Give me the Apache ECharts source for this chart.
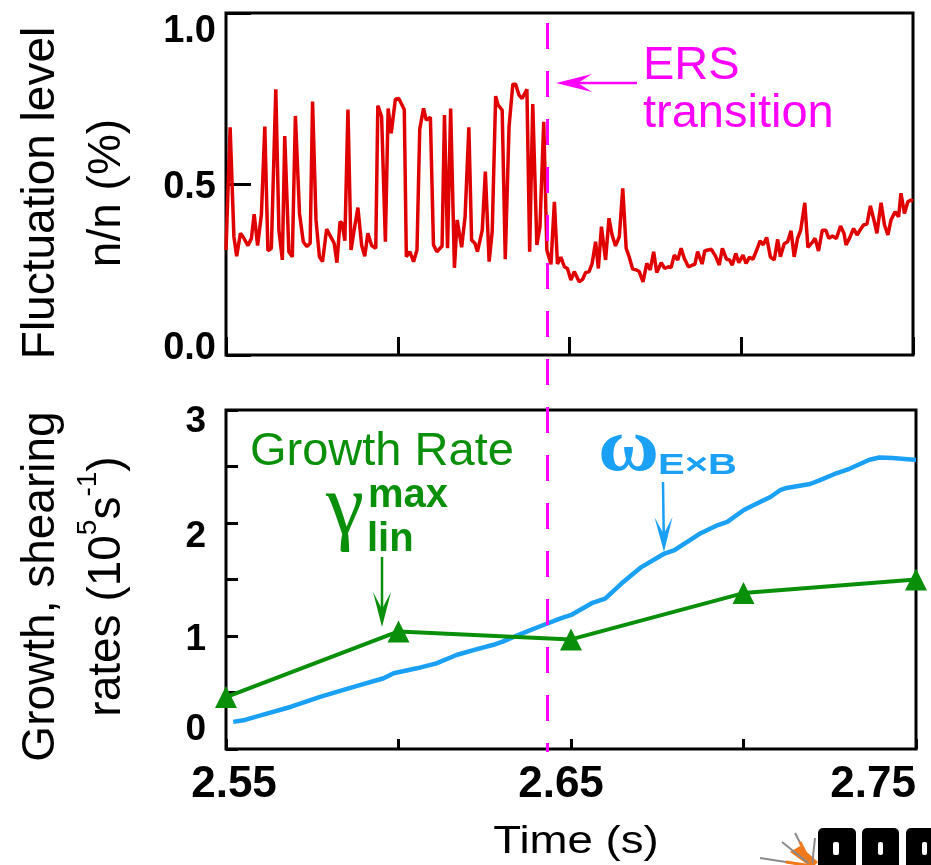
<!DOCTYPE html>
<html>
<head>
<meta charset="utf-8">
<script src="https://cdn.jsdelivr.net/npm/echarts@6/dist/echarts.min.js"></script>
<style>
  html, body { margin: 0; padding: 0; background: #fff; }
  #main { width: 931px; height: 865px; }
</style>
</head>
<body>
<div id="main"></div>
<script>
// Density fluctuation level (%) versus time
const fluctTime = [
  2.5500, 2.5512, 2.5523, 2.5531, 2.5542, 2.5550, 2.5564, 2.5574, 2.5582, 2.5592,
  2.5603, 2.5613, 2.5622, 2.5632, 2.5645, 2.5654, 2.5664, 2.5671, 2.5683, 2.5693,
  2.5702, 2.5714, 2.5725, 2.5735, 2.5745, 2.5752, 2.5762, 2.5772, 2.5781, 2.5793,
  2.5810, 2.5815, 2.5823, 2.5832, 2.5838, 2.5846, 2.5855, 2.5864, 2.5873, 2.5884,
  2.5895, 2.5904, 2.5913, 2.5924, 2.5936, 2.5942, 2.5953, 2.5964, 2.5972, 2.5981,
  2.5993, 2.6003, 2.6019, 2.6025, 2.6035, 2.6046, 2.6056, 2.6064, 2.6075, 2.6083,
  2.6095, 2.6104, 2.6114, 2.6123, 2.6129, 2.6136, 2.6145, 2.6154, 2.6165, 2.6173,
  2.6186, 2.6196, 2.6207, 2.6215, 2.6225, 2.6232, 2.6246, 2.6255, 2.6266, 2.6275,
  2.6285, 2.6292, 2.6304, 2.6313, 2.6324, 2.6335, 2.6343, 2.6353, 2.6362, 2.6376,
  2.6384, 2.6393, 2.6405, 2.6414, 2.6425, 2.6434, 2.6446, 2.6456, 2.6465, 2.6475,
  2.6485, 2.6494, 2.6504, 2.6514, 2.6528, 2.6538, 2.6547, 2.6557, 2.6566, 2.6576,
  2.6584, 2.6593, 2.6605, 2.6615, 2.6624, 2.6634, 2.6645, 2.6655, 2.6665, 2.6674,
  2.6684, 2.6694, 2.6703, 2.6714, 2.6725, 2.6735, 2.6745, 2.6754, 2.6767, 2.6777,
  2.6788, 2.6796, 2.6805, 2.6815, 2.6825, 2.6834, 2.6846, 2.6858, 2.6865, 2.6873,
  2.6886, 2.6894, 2.6913, 2.6925, 2.6936, 2.6945, 2.6957, 2.6966, 2.6974, 2.6984,
  2.6993, 2.7005, 2.7014, 2.7024, 2.7034, 2.7045, 2.7055, 2.7064, 2.7074, 2.7085,
  2.7096, 2.7106, 2.7114, 2.7125, 2.7135, 2.7145, 2.7154, 2.7164, 2.7173, 2.7185,
  2.7194, 2.7205, 2.7215, 2.7225, 2.7236, 2.7246, 2.7255, 2.7265, 2.7277, 2.7289,
  2.7299, 2.7305, 2.7315, 2.7327, 2.7337, 2.7347, 2.7356, 2.7366, 2.7376, 2.7385,
  2.7395, 2.7407, 2.7417, 2.7427, 2.7436, 2.7448, 2.7458, 2.7465, 2.7475, 2.7485,
  2.7494, 2.7500
];
const fluctLevel = [
  0.307, 0.666, 0.346, 0.289, 0.356, 0.345, 0.320, 0.341, 0.412, 0.320,
  0.410, 0.668, 0.305, 0.312, 0.777, 0.365, 0.278, 0.640, 0.302, 0.287,
  0.699, 0.414, 0.331, 0.317, 0.327, 0.741, 0.395, 0.287, 0.273, 0.368,
  0.336, 0.326, 0.270, 0.390, 0.385, 0.334, 0.718, 0.307, 0.365, 0.431,
  0.320, 0.289, 0.356, 0.320, 0.312, 0.729, 0.697, 0.331, 0.721, 0.648,
  0.748, 0.750, 0.718, 0.287, 0.302, 0.273, 0.307, 0.660, 0.721, 0.687,
  0.695, 0.322, 0.302, 0.312, 0.318, 0.702, 0.312, 0.721, 0.255, 0.395,
  0.315, 0.404, 0.666, 0.336, 0.326, 0.302, 0.365, 0.536, 0.273, 0.361,
  0.757, 0.731, 0.716, 0.280, 0.668, 0.792, 0.792, 0.760, 0.750, 0.777,
  0.302, 0.734, 0.322, 0.375, 0.682, 0.307, 0.265, 0.448, 0.266, 0.286,
  0.258, 0.253, 0.219, 0.244, 0.214, 0.221, 0.241, 0.244, 0.268, 0.331,
  0.253, 0.375, 0.278, 0.400, 0.351, 0.319, 0.346, 0.487, 0.312, 0.286,
  0.251, 0.249, 0.244, 0.214, 0.268, 0.249, 0.302, 0.241, 0.270, 0.253,
  0.258, 0.256, 0.292, 0.278, 0.312, 0.283, 0.258, 0.263, 0.265, 0.302,
  0.266, 0.305, 0.309, 0.289, 0.263, 0.312, 0.280, 0.278, 0.263, 0.297,
  0.270, 0.292, 0.268, 0.286, 0.280, 0.307, 0.334, 0.322, 0.344, 0.286,
  0.278, 0.338, 0.287, 0.325, 0.331, 0.363, 0.287, 0.341, 0.365, 0.445,
  0.315, 0.327, 0.341, 0.304, 0.365, 0.365, 0.341, 0.348, 0.341, 0.377,
  0.356, 0.322, 0.341, 0.370, 0.351, 0.367, 0.380, 0.383, 0.436, 0.400,
  0.356, 0.445, 0.380, 0.351, 0.395, 0.419, 0.404, 0.473, 0.414, 0.448,
  0.453, 0.450
];

// E×B shearing rate (10^5 s^-1)
const shearTime = [
  2.5521, 2.5555, 2.5603, 2.5689, 2.5775, 2.5880, 2.5957, 2.5986, 2.6053, 2.6110,
  2.6168, 2.6225, 2.6273, 2.6302, 2.6359, 2.6407, 2.6474, 2.6503, 2.6560, 2.6599,
  2.6647, 2.6704, 2.6771, 2.6800, 2.6876, 2.6924, 2.6953, 2.7001, 2.7030, 2.7078,
  2.7106, 2.7125, 2.7193, 2.7222, 2.7269, 2.7307, 2.7365, 2.7394, 2.7432, 2.7494,
  2.7500
];
const shearRate = [
  0.240, 0.257, 0.300, 0.374, 0.463, 0.558, 0.626, 0.670, 0.714, 0.758,
  0.832, 0.882, 0.920, 0.950, 1.024, 1.082, 1.160, 1.190, 1.290, 1.330,
  1.466, 1.610, 1.730, 1.760, 1.910, 1.980, 2.010, 2.115, 2.160, 2.230,
  2.290, 2.310, 2.345, 2.380, 2.440, 2.480, 2.560, 2.580, 2.575, 2.560,
  2.560
];

// Maximum linear growth rate (10^5 s^-1)
const growthTime = [2.55, 2.60, 2.65, 2.70, 2.75];
const growthRate = [0.46, 1.04, 0.97, 1.38, 1.50];

// ERS transition time (s)
const ersTime = 2.644;

// Axis tick labels
const timeTickLabels = ['2.55', '2.65', '2.75'];
const fluctTickLabels = ['0.0', '0.5', '1.0'];
const rateTickLabels = ['0', '1', '2', '3'];

const SANS = '"Liberation Sans", Arial, Helvetica, sans-serif';
const SERIF = '"Liberation Serif", "Times New Roman", serif';
const RED = '#e00000';
const BLUE = '#1aa0f5';
const GREEN = '#0a8f0a';
const MAGENTA = '#ff00ff';

const pairs = (xs, ys) => xs.map((x, i) => [x, ys[i]]);

function arrow(x1, y1, x2, y2, color, width, headLen, headHalf, notch) {
  const dx = x2 - x1, dy = y2 - y1, L = Math.hypot(dx, dy);
  const ux = dx / L, uy = dy / L, px = -uy, py = ux;
  const bx = x2 - ux * headLen, by = y2 - uy * headLen;
  const nx = x2 - ux * notch, ny = y2 - uy * notch;
  return [
    { type: 'line', z: 50, shape: { x1, y1, x2: nx, y2: ny },
      style: { stroke: color, lineWidth: width } },
    { type: 'polygon', z: 50,
      shape: { points: [[x2, y2], [bx + px * headHalf, by + py * headHalf], [nx, ny],
                        [bx - px * headHalf, by - py * headHalf]] },
      style: { fill: color } }
  ];
}

function text(x, y, str, font, fill, opts) {
  return Object.assign({
    type: 'text', x, y, z: 50,
    style: Object.assign({
      text: str, font, fill,
      textAlign: 'left', align: 'left',
      textVerticalAlign: 'middle', verticalAlign: 'middle'
    }, (opts && opts.style) || {})
  }, (opts && opts.el) || {});
}

const tickKey = (v) => Math.round(v * 100);

const chart = echarts.init(document.getElementById('main'), null, { renderer: 'canvas' });

const graphics = [].concat(
  // ERS transition label and pointer
  [text(643, 42, 'ERS\ntransition', '47px ' + SANS, MAGENTA,
        { style: { lineHeight: 48, textVerticalAlign: 'top', verticalAlign: 'top' } })],
  arrow(637, 83, 556, 83, MAGENTA, 2.5, 36, 9, 22),
  // growth rate label
  [text(250, 452, 'Growth Rate', '47px ' + SANS, GREEN)],
  [text(326, 510, 'γ', '86px ' + SERIF, GREEN)],
  [text(368, 496, 'max', 'bold 40px ' + SANS, GREEN)],
  [text(367, 540, 'lin', 'bold 40px ' + SANS, GREEN)],
  arrow(382, 557, 382, 627, GREEN, 2.5, 35, 9, 18),
  // shearing rate label
  [text(0, 0, 'ω', 'bold 76px ' + SERIF, BLUE, { el: { x: 598, y: 450, scaleX: 1.1 } })],
  [text(0, 0, 'E×B', 'bold 29px ' + SANS, BLUE, { el: { x: 658, y: 466, scaleX: 1.38 } })],
  arrow(663, 482, 664, 552, BLUE, 2.5, 35, 9, 18),
  // time axis title
  [text(0, 0, 'Time (s)', '38px ' + SANS, '#000',
        { el: { x: 576, y: 843, scaleX: 1.2 },
          style: { textAlign: 'center', align: 'center' } })],
  // DIII-D emblem (partly cut off at the corner)
  [
    { type: 'polygon', z: 40, shape: { points: [[812, 868], [790, 852], [800, 846], [818, 862]] },
      style: { fill: '#f07a1a' } },
    { type: 'line', z: 41, shape: { x1: 812, y1: 866, x2: 760, y2: 858 }, style: { stroke: '#8a8a8a', lineWidth: 2 } },
    { type: 'line', z: 41, shape: { x1: 812, y1: 866, x2: 782, y2: 842 }, style: { stroke: '#8a8a8a', lineWidth: 2 } },
    { type: 'line', z: 41, shape: { x1: 812, y1: 866, x2: 795, y2: 833 }, style: { stroke: '#8a8a8a', lineWidth: 2 } },
    { type: 'line', z: 41, shape: { x1: 812, y1: 866, x2: 815, y2: 838 }, style: { stroke: '#8a8a8a', lineWidth: 2 } },
    { type: 'line', z: 41, shape: { x1: 812, y1: 866, x2: 786, y2: 862 }, style: { stroke: '#f07a1a', lineWidth: 3 } },
    { type: 'line', z: 41, shape: { x1: 812, y1: 866, x2: 800, y2: 842 }, style: { stroke: '#f07a1a', lineWidth: 3 } },
    { type: 'rect', z: 42, shape: { x: 818, y: 828, width: 38, height: 42, r: 5 }, style: { fill: '#000' } },
    { type: 'rect', z: 42, shape: { x: 862, y: 828, width: 37, height: 42, r: 5 }, style: { fill: '#000' } },
    { type: 'rect', z: 42, shape: { x: 906, y: 828, width: 32, height: 42, r: 5 }, style: { fill: '#000' } },
    { type: 'rect', z: 43, shape: { x: 833, y: 842, width: 6, height: 13, r: 2 }, style: { fill: '#fff' } },
    { type: 'rect', z: 43, shape: { x: 878, y: 842, width: 5, height: 13, r: 2 }, style: { fill: '#fff' } },
    { type: 'rect', z: 43, shape: { x: 922, y: 842, width: 5, height: 13, r: 2 }, style: { fill: '#fff' } }
  ]
);

const option = {
  animation: false,
  backgroundColor: '#fff',
  grid: [
    { left: 221, top: 13, width: 692, height: 342, show: true,
      borderColor: '#000', borderWidth: 3, backgroundColor: 'transparent' },
    { left: 221, top: 410, width: 695, height: 339, show: true,
      borderColor: '#000', borderWidth: 3, backgroundColor: 'transparent' },
    { left: 221, top: 8, width: 695, height: 744, show: false }
  ],
  xAxis: [
    { type: 'value', gridIndex: 0, min: 2.55, max: 2.75, interval: 0.05,
      axisLine: { show: false }, splitLine: { show: false },
      axisTick: { show: true, inside: true, length: 18, lineStyle: { color: '#000', width: 3 } },
      axisLabel: { show: false } },
    { type: 'value', gridIndex: 1, min: 2.55, max: 2.75, interval: 0.05,
      axisLine: { show: false }, splitLine: { show: false },
      axisTick: { show: true, inside: true, length: 10, lineStyle: { color: '#000', width: 3 } },
      axisLabel: {
        show: true, margin: 14, alignMaxLabel: 'right',
        formatter: (v) => {
          const k = tickKey(v);
          if (k === 255) return '{a|' + timeTickLabels[0] + '}';
          if (k === 265) return '{b|' + timeTickLabels[1] + '}';
          if (k === 275) return '{c|' + timeTickLabels[2] + '}';
          return '';
        },
        fontFamily: SANS, fontWeight: 'bold', fontSize: 44, color: '#000',
        rich: {
          a: { fontFamily: SANS, fontWeight: 'bold', fontSize: 44, color: '#000', padding: [0, 0, 0, 16] },
          b: { fontFamily: SANS, fontWeight: 'bold', fontSize: 44, color: '#000', padding: [0, 20, 0, 0] },
          c: { fontFamily: SANS, fontWeight: 'bold', fontSize: 44, color: '#000' }
        }
      } },
    { type: 'value', gridIndex: 2, min: 2.55, max: 2.75, show: false }
  ],
  yAxis: [
    { type: 'value', gridIndex: 0, min: 0, max: 1, interval: 0.5,
      axisLine: { show: false }, splitLine: { show: false },
      axisTick: { show: true, inside: true, length: 25, lineStyle: { color: '#000', width: 3 } },
      axisLabel: {
        margin: 10,
        formatter: (v) => {
          const k = tickKey(v);
          if (k === 0) return '{d0|' + fluctTickLabels[0] + '}';
          if (k === 50) return '{d5|' + fluctTickLabels[1] + '}';
          return '{d10|' + fluctTickLabels[2] + '}';
        },
        fontFamily: SANS, fontWeight: 'bold', fontSize: 38, color: '#000',
        rich: {
          d0: { fontFamily: SANS, fontWeight: 'bold', fontSize: 38, color: '#000', padding: [0, 0, 12, 0] },
          d5: { fontFamily: SANS, fontWeight: 'bold', fontSize: 38, color: '#000', padding: [8, 0, 0, 0] },
          d10: { fontFamily: SANS, fontWeight: 'bold', fontSize: 38, color: '#000', padding: [38, 0, 0, 0] }
        }
      },
      name: 'Fluctuation level\nn/n (%)', nameLocation: 'middle', nameRotate: 90, nameGap: 86,
      nameTextStyle: { fontFamily: SANS, fontSize: 46, lineHeight: 66, color: '#000', padding: [0, 18, 0, 0] } },
    { type: 'value', gridIndex: 1, min: 0, max: 3, interval: 1,
      axisLine: { show: false }, splitLine: { show: false },
      axisTick: { show: true, inside: true, length: 12, lineStyle: { color: '#000', width: 3 } },
      minorTick: { show: true, splitNumber: 2, length: 12, lineStyle: { color: '#000', width: 3 } },
      axisLabel: {
        margin: 20,
        formatter: (v) => '{r' + Math.round(v) + '|' + rateTickLabels[Math.round(v)] + '}',
        fontFamily: SANS, fontWeight: 'bold', fontSize: 37, color: '#000',
        rich: {
          r0: { fontFamily: SANS, fontWeight: 'bold', fontSize: 37, color: '#000', padding: [0, 0, 38, 0] },
          r1: { fontFamily: SANS, fontWeight: 'bold', fontSize: 37, color: '#000', padding: [8, 0, 0, 0] },
          r2: { fontFamily: SANS, fontWeight: 'bold', fontSize: 37, color: '#000', padding: [28, 0, 0, 0] },
          r3: { fontFamily: SANS, fontWeight: 'bold', fontSize: 37, color: '#000', padding: [24, 0, 0, 0] }
        }
      },
      name: '{a|Growth, shearing}\n{a|rates (10}{s|5}{a|s}{s|-1}{a|)}',
      nameLocation: 'middle', nameRotate: 90, nameGap: 86,
      nameTextStyle: {
        fontFamily: SANS, fontSize: 46, lineHeight: 66, color: '#000', padding: [0, 14, 0, 0],
        rich: {
          a: { fontFamily: SANS, fontSize: 46, lineHeight: 66, color: '#000' },
          s: { fontFamily: SANS, fontSize: 28, lineHeight: 54, verticalAlign: 'top', color: '#000' }
        }
      } },
    { type: 'value', gridIndex: 2, min: 0, max: 1, show: false }
  ],
  series: [
    { name: 'Fluctuation level', type: 'line', xAxisIndex: 0, yAxisIndex: 0,
      data: pairs(fluctTime, fluctLevel), symbol: 'none', showSymbol: false,
      lineStyle: { color: RED, width: 3.5 }, z: 3 },
    { name: 'E×B shearing rate', type: 'line', xAxisIndex: 1, yAxisIndex: 1,
      data: pairs(shearTime, shearRate), symbol: 'none', showSymbol: false,
      lineStyle: { color: BLUE, width: 4.5 }, z: 3 },
    { name: 'Growth rate', type: 'line', xAxisIndex: 1, yAxisIndex: 1,
      data: pairs(growthTime, growthRate), symbol: 'triangle', symbolSize: 22, showSymbol: true,
      clip: false, itemStyle: { color: GREEN }, lineStyle: { color: GREEN, width: 4 }, z: 4 },
    { name: 'ERS transition', type: 'line', xAxisIndex: 2, yAxisIndex: 2, data: [],
      z: 10,
      markLine: {
        silent: true, symbol: ['none', 'none'], label: { show: false },
        lineStyle: { color: MAGENTA, width: 3, type: [26, 22], dashOffset: 17 },
        data: [[{ coord: [ersTime, 0] }, { coord: [ersTime, 1] }]]
      } }
  ],
  graphic: { elements: graphics }
};

chart.setOption(option);
</script>
</body>
</html>
